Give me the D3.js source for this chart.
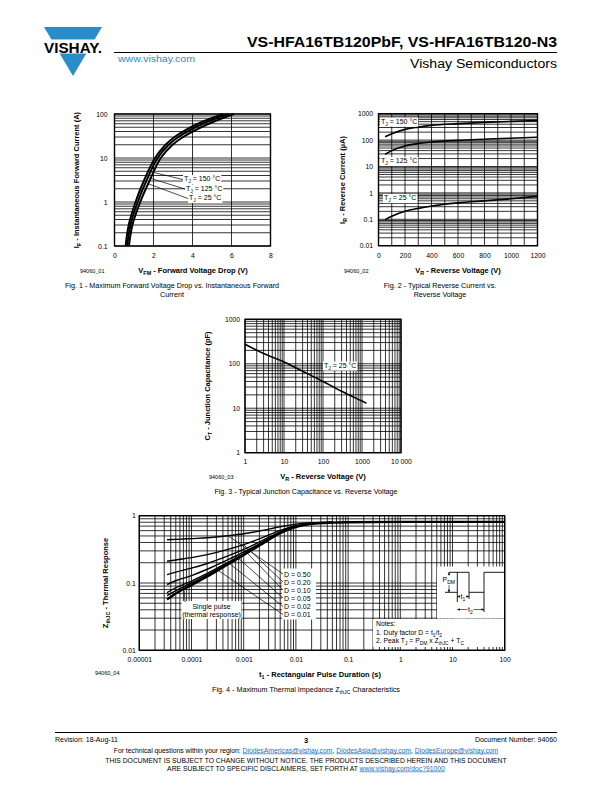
<!DOCTYPE html>
<html><head><meta charset="utf-8">
<script src="https://cdn.jsdelivr.net/npm/d3@7"></script>
<style>body{margin:0;background:#fff}svg{display:block}</style>
</head><body><svg id="page" width="612" height="792"></svg>
<script>
// ================= DATA =================
// Fig. 1  forward current (A) vs forward voltage (V)
const fig1Current = [0.1, 0.3, 1, 3, 10, 20, 30, 60, 100];
const fig1V150 = [0.57, 0.73, 1.08, 1.50, 2.08, 2.62, 3.08, 4.28, 5.58];
const fig1V125 = [0.65, 0.82, 1.19, 1.63, 2.21, 2.78, 3.28, 4.53, 5.84];
const fig1V25  = [0.74, 0.92, 1.32, 1.79, 2.37, 2.98, 3.52, 4.83, 6.13];
const fig1Temps = ["150", "125", "25"];
const fig1LeaderI = [5, 3.6, 2.6];
const fig1XTicks = [0, 2, 4, 6, 8];
const fig1XLabels = ["0", "2", "4", "6", "8"];
const fig1YTicks = [0.1, 1, 10, 100];
const fig1YLabels = ["0.1", "1", "10", "100"];

// Fig. 2  reverse current (uA) vs reverse voltage (V)
const fig2Voltage = [50, 100, 200, 300, 400, 600, 800, 1000, 1200];
const fig2I150 = [135, 175, 255, 310, 360, 420, 470, 510, 545];
const fig2I125 = [29, 40, 60, 74, 85, 98, 108, 118, 128];
const fig2I25  = [0.097, 0.13, 0.2, 0.26, 0.32, 0.42, 0.5, 0.6, 0.74];
const fig2Temps = ["150", "125", "25"];
const fig2XTicks = [0, 200, 400, 600, 800, 1000, 1200];
const fig2XLabels = ["0", "200", "400", "600", "800", "1000", "1200"];
const fig2YTicks = [0.01, 0.1, 1, 10, 100, 1000];
const fig2YLabels = ["0.01", "0.1", "1", "10", "100", "1000"];

// Fig. 3  junction capacitance (pF) vs reverse voltage (V)
const fig3Voltage = [1, 3, 10, 30, 100, 300, 1000, 1300];
const fig3Cap = [275, 170, 110, 68, 40, 24, 14.5, 13];
const fig3XTicks = [1, 10, 100, 1000, 10000];
const fig3XLabels = ["1", "10", "100", "1000", "10 000"];
const fig3YTicks = [1, 10, 100, 1000];
const fig3YLabels = ["1", "10", "100", "1000"];

// Fig. 4  thermal impedance vs pulse duration (s)
const fig4T = [3.4e-5, 5e-5, 1e-4, 2e-4, 5e-4, 1e-3, 2e-3, 5e-3, 1e-2, 2e-2, 5e-2];
const fig4D50 = [0.44, 0.445, 0.457, 0.47, 0.505, 0.54, 0.59, 0.685, 0.75, 0.785, 0.80];
const fig4D20 = [0.21, 0.22, 0.238, 0.264, 0.316, 0.372, 0.452, 0.604, 0.708, 0.768, 0.795];
const fig4D10 = [0.133, 0.145, 0.166, 0.195, 0.253, 0.316, 0.406, 0.577, 0.694, 0.762, 0.792];
const fig4D05 = [0.095, 0.108, 0.129, 0.16, 0.222, 0.288, 0.383, 0.564, 0.687, 0.76, 0.791];
const fig4D02 = [0.072, 0.085, 0.107, 0.139, 0.203, 0.271, 0.369, 0.555, 0.683, 0.76, 0.79];
const fig4D01 = [0.065, 0.077, 0.1, 0.132, 0.196, 0.266, 0.365, 0.553, 0.681, 0.76, 0.79];
const fig4SingleT = [3.4e-5, 5e-5, 1e-4, 2e-4, 5e-4, 1e-3, 2e-3, 5e-3, 1e-2, 2e-2, 5e-2, 0.1, 1, 10, 100];
const fig4Single = [0.057, 0.07, 0.093, 0.125, 0.19, 0.26, 0.36, 0.55, 0.68, 0.76, 0.79, 0.80, 0.81, 0.81, 0.81];
const fig4DLabels = ["D = 0.50", "D = 0.20", "D = 0.10", "D = 0.05", "D = 0.02", "D = 0.01"];
const fig4LeaderT = [5e-4, 1e-3, 1e-3, 7e-4, 5e-4, 3e-4];
const fig4XTicks = [1e-5, 1e-4, 1e-3, 1e-2, 0.1, 1, 10, 100];
const fig4XLabels = ["0.00001", "0.0001", "0.001", "0.01", "0.1", "1", "10", "100"];
const fig4YTicks = [0.01, 0.1, 1];
const fig4YLabels = ["0.01", "0.1", "1"];

// ================= HELPERS =================
const FONT = '"Liberation Sans", Arial, Helvetica, sans-serif';
const BLUE = "#2a8cc8";
const svg = d3.select("#page");
svg.append("rect").attr("width", 612).attr("height", 792).attr("fill", "#fff");

function rich(t, parts, fs) {
  let shifted = 0;
  parts.forEach(p => {
    const sub = Array.isArray(p);
    const target = sub ? fs * 0.3 : 0;
    t.append("tspan").attr("dy", target - shifted).attr("font-size", sub ? fs * 0.72 : fs).text(sub ? p[0] : p);
    shifted = target;
  });
  return t;
}
function txt(x, y, parts, o = {}) {
  const fs = o.fs || 7;
  const t = svg.append("text").attr("x", x).attr("y", y).attr("font-family", FONT)
    .attr("font-size", fs).attr("fill", o.fill || "#000")
    .attr("text-anchor", o.anchor || "start").attr("font-weight", o.bold ? "bold" : null);
  if (o.rot) t.attr("transform", `rotate(-90,${x},${y})`);
  if (o.len) t.attr("textLength", o.len).attr("lengthAdjust", "spacingAndGlyphs");
  if (typeof parts === "string") t.text(parts); else rich(t, parts, fs);
  return t;
}
function logGrid(a, b) {
  const out = [];
  for (let e = Math.round(Math.log10(a)); e < Math.round(Math.log10(b)); e++)
    for (let k = 1; k <= 9; k++) out.push(k * Math.pow(10, e));
  out.push(b);
  return out;
}
function grid(g, x, y, xs, ys) {
  const [x0, x1] = x.range(), [yb, yt] = y.range();
  g.selectAll(null).data(xs).join("line").attr("x1", d => x(d)).attr("x2", d => x(d))
    .attr("y1", yt).attr("y2", yb).attr("stroke", "#000").attr("stroke-width", 0.8);
  g.selectAll(null).data(ys).join("line").attr("y1", d => y(d)).attr("y2", d => y(d))
    .attr("x1", x0).attr("x2", x1).attr("stroke", "#000").attr("stroke-width", 0.8);
}
function frame(g, x, y) {
  const [x0, x1] = x.range(), [yb, yt] = y.range();
  g.append("rect").attr("x", x0).attr("y", yt).attr("width", x1 - x0).attr("height", yb - yt)
    .attr("fill", "none").attr("stroke", "#000").attr("stroke-width", 1.4);
}
function axes(g, x, y, o) {
  const yb = y.range()[0], x0 = x.range()[0];
  const ax = g.append("g").attr("transform", `translate(0,${yb})`)
    .call(d3.axisBottom(x).tickValues(o.xTicks).tickFormat((d, i) => o.xLabels[i]).tickSize(0).tickPadding(o.xPad));
  ax.select(".domain").remove();
  ax.attr("font-family", FONT).attr("font-size", 6.8);
  const ay = g.append("g").attr("transform", `translate(${x0},0)`)
    .call(d3.axisLeft(y).tickValues(o.yTicks).tickFormat((d, i) => o.yLabels[i]).tickSize(0).tickPadding(o.yPad));
  ay.select(".domain").remove();
  ay.attr("font-family", FONT).attr("font-size", 6.8);
}
function boxedText(g, x, y, parts, fs, pad = 1) {
  const t = g.append("text").attr("x", x).attr("y", y).attr("font-family", FONT).attr("font-size", fs);
  rich(t, parts, fs);
  const b = t.node().getBBox();
  g.insert("rect", () => t.node()).attr("x", b.x - pad).attr("y", b.y).attr("width", b.width + 2 * pad)
    .attr("height", b.height).attr("fill", "#fff");
  return b;
}

// ================= HEADER =================
svg.append("path").attr("d", "M44,27L102,27L73,76Z").attr("fill", BLUE);
svg.append("rect").attr("x", 38).attr("y", 39.5).attr("width", 70).attr("height", 14).attr("fill", "#fff");
txt(73, 52.5, "VISHAY.", { fs: 14, bold: true, anchor: "middle", len: 58 });
txt(557, 47, "VS-HFA16TB120PbF, VS-HFA16TB120-N3", { fs: 15, bold: true, anchor: "end", len: 310 });
svg.append("line").attr("x1", 114).attr("x2", 557).attr("y1", 52.5).attr("y2", 52.5).attr("stroke", "#000").attr("stroke-width", 1);
txt(118, 61.5, "www.vishay.com", { fs: 9.5, fill: BLUE, len: 77 });
txt(557, 67.5, "Vishay Semiconductors", { fs: 12.5, anchor: "end", len: 147 });

// ================= FIG 1 =================
{
  const g = svg.append("g");
  const x = d3.scaleLinear([0, 8], [114.5, 270.5]);
  const y = d3.scaleLog([0.1, 100], [246, 114]);
  grid(g, x, y, [2, 4, 6], logGrid(0.1, 100));
  const line = d3.line().x(d => x(d[0])).y(d => y(d[1])).curve(d3.curveCatmullRom.alpha(0.5));
  const series = [fig1V150, fig1V125, fig1V25];
  series.forEach(v => g.append("path").attr("d", line(v.map((vv, i) => [vv, fig1Current[i]])))
    .attr("fill", "none").attr("stroke", "#000").attr("stroke-width", 2));
  const lbl = [[184, 181], [186, 190.5], [189, 200]];
  series.forEach((v, i) => {
    const interp = d3.scaleLog().domain(fig1Current).range(v);
    const I = fig1LeaderI[i];
    const b = boxedText(g, lbl[i][0], lbl[i][1], ["T", ["J"], " = " + fig1Temps[i] + " °C"], 7);
    g.append("line").attr("x1", x(interp(I))).attr("y1", y(I)).attr("x2", b.x - 1).attr("y2", b.y + b.height / 2)
      .attr("stroke", "#000").attr("stroke-width", 0.7);
  });
  frame(g, x, y);
  axes(g, x, y, { xTicks: fig1XTicks, xLabels: fig1XLabels, yTicks: fig1YTicks, yLabels: fig1YLabels, xPad: 7, yPad: 7 });
  txt(193, 273, ["V", ["FM"], " - Forward Voltage Drop (V)"], { fs: 7.5, bold: true, anchor: "middle" });
  txt(79, 180, ["I", ["F"], " - Instantaneous Forward Current (A)"], { fs: 7.5, bold: true, anchor: "middle", rot: true });
  txt(80, 273, "94060_01", { fs: 5.5 });
  txt(172, 288, "Fig. 1 - Maximum Forward Voltage Drop vs. Instantaneous Forward", { fs: 7.2, anchor: "middle" });
  txt(172, 296.5, "Current", { fs: 7.2, anchor: "middle" });
}

// ================= FIG 2 =================
{
  const g = svg.append("g");
  const x = d3.scaleLinear([0, 1200], [378.5, 537.5]);
  const y = d3.scaleLog([0.01, 1000], [245.7, 113.7]);
  grid(g, x, y, d3.range(100, 1200, 100), logGrid(0.01, 1000));
  const line = d3.line().x(d => x(d[0])).y(d => y(d[1])).curve(d3.curveMonotoneX);
  [fig2I150, fig2I125, fig2I25].forEach(s => g.append("path")
    .attr("d", line(s.map((v, i) => [fig2Voltage[i], v])))
    .attr("fill", "none").attr("stroke", "#000").attr("stroke-width", 1.6));
  boxedText(g, 381, 123.5, ["T", ["J"], " = " + fig2Temps[0] + " °C"], 7);
  boxedText(g, 381, 163, ["T", ["J"], " = " + fig2Temps[1] + " °C"], 7);
  boxedText(g, 384, 200, ["T", ["J"], " = " + fig2Temps[2] + " °C"], 7);
  frame(g, x, y);
  axes(g, x, y, { xTicks: fig2XTicks, xLabels: fig2XLabels, yTicks: fig2YTicks, yLabels: fig2YLabels, xPad: 7, yPad: 5.5 });
  txt(458, 273, ["V", ["R"], " - Reverse Voltage (V)"], { fs: 7.5, bold: true, anchor: "middle" });
  txt(345, 180, ["I", ["R"], " - Reverse Current (µA)"], { fs: 7.5, bold: true, anchor: "middle", rot: true });
  txt(344, 273, "94060_02", { fs: 5.5 });
  txt(440, 288, "Fig. 2 - Typical Reverse Current vs.", { fs: 7.2, anchor: "middle" });
  txt(440, 296.5, "Reverse Voltage", { fs: 7.2, anchor: "middle" });
}

// ================= FIG 3 =================
{
  const g = svg.append("g");
  const x = d3.scaleLog([1, 10000], [245, 401]);
  const y = d3.scaleLog([1, 1000], [452.7, 319.3]);
  grid(g, x, y, logGrid(1, 10000), logGrid(1, 1000));
  const line = d3.line().x(d => x(d[0])).y(d => y(d[1])).curve(d3.curveMonotoneX);
  g.append("path").attr("d", line(fig3Cap.map((c, i) => [fig3Voltage[i], c])))
    .attr("fill", "none").attr("stroke", "#000").attr("stroke-width", 1.6);
  boxedText(g, 324, 367.5, ["T", ["J"], " = 25 °C"], 7);
  frame(g, x, y);
  axes(g, x, y, { xTicks: fig3XTicks, xLabels: fig3XLabels, yTicks: fig3YTicks, yLabels: fig3YLabels, xPad: 6, yPad: 5 });
  txt(323, 479, ["V", ["R"], " - Reverse Voltage (V)"], { fs: 7.5, bold: true, anchor: "middle" });
  txt(210, 386, ["C", ["T"], " - Junction Capacitance (pF)"], { fs: 7.5, bold: true, anchor: "middle", rot: true });
  txt(209, 479, "94060_03", { fs: 5.5 });
  txt(306, 494, "Fig. 3 - Typical Junction Capacitance vs. Reverse Voltage", { fs: 7.2, anchor: "middle" });
}

// ================= FIG 4 =================
{
  const g = svg.append("g");
  const x = d3.scaleLog([1e-5, 100], [139.3, 504.7]);
  const y = d3.scaleLog([0.01, 1], [650.3, 515.7]);
  grid(g, x, y, logGrid(1e-5, 100), logGrid(0.01, 1));
  const line = d3.line().x(d => x(d[0])).y(d => y(d[1])).curve(d3.curveMonotoneX);
  const dSeries = [fig4D50, fig4D20, fig4D10, fig4D05, fig4D02, fig4D01];
  dSeries.forEach(s => g.append("path").attr("d", line(s.map((v, i) => [fig4T[i], v])))
    .attr("fill", "none").attr("stroke", "#000").attr("stroke-width", 1.4));
  g.append("path").attr("d", line(fig4Single.map((v, i) => [fig4SingleT[i], v])))
    .attr("fill", "none").attr("stroke", "#000").attr("stroke-width", 2.4);
  // D labels
  g.append("rect").attr("x", 282).attr("y", 568.5).attr("width", 34).attr("height", 51).attr("fill", "#fff");
  const lblY = [574, 582, 590, 598, 606.5, 614.5];
  dSeries.forEach((s, i) => {
    txt(284, lblY[i] + 2.5, fig4DLabels[i], { fs: 7 });
    const interp = d3.scaleLog().domain(fig4T).range(s);
    const t = fig4LeaderT[i];
    g.append("line").attr("x1", x(t)).attr("y1", y(interp(t))).attr("x2", 283).attr("y2", lblY[i])
      .attr("stroke", "#000").attr("stroke-width", 0.7);
  });
  // single pulse label
  g.append("rect").attr("x", 181.5).attr("y", 601).attr("width", 60).attr("height", 18).attr("fill", "#fff");
  txt(211.5, 608.5, "Single pulse", { fs: 7, anchor: "middle" });
  txt(211.5, 616.5, "(thermal response)", { fs: 7, anchor: "middle" });
  const spI = d3.scaleLog().domain(fig4SingleT).range(fig4Single);
  g.append("line").attr("x1", x(7.2e-5)).attr("y1", y(spI(7.2e-5))).attr("x2", 185).attr("y2", 602)
    .attr("stroke", "#000").attr("stroke-width", 0.7);
  // pulse diagram
  g.append("rect").attr("x", 437).attr("y", 566.5).attr("width", 68).attr("height", 52).attr("fill", "#fff");
  const pth = "M449,572.3H469V592.3H484V572.3H505 M457.3,572.3V602 M469,592.3V599 M484,592.3V612 M445,592.3H457.3";
  g.append("path").attr("d", pth).attr("fill", "none").attr("stroke", "#000").attr("stroke-width", 0.9);
  const arrows = "M449,572.3V575.5 M449,585V592.3 M457.3,596.5H469 M457.3,609.5H484";
  g.append("path").attr("d", arrows).attr("fill", "none").attr("stroke", "#000").attr("stroke-width", 0.6);
  const heads = "M449,572.3l-1.3,2.5h2.6Z M449,592.3l-1.3,-2.5h2.6Z M457.3,596.5l2.5,-1.2v2.4Z M469,596.5l-2.5,-1.2v2.4Z M457.3,609.5l2.5,-1.2v2.4Z M484,609.5l-2.5,-1.2v2.4Z";
  g.append("path").attr("d", heads).attr("fill", "#000");
  boxedText(g, 442.5, 582, ["P", ["DM"]], 7, 0.5);
  boxedText(g, 460.5, 599, ["t", ["1"]], 7, 0.5);
  boxedText(g, 468, 612, ["t", ["2"]], 7, 0.5);
  // notes
  g.append("rect").attr("x", 373).attr("y", 619).attr("width", 132).attr("height", 28).attr("fill", "#fff");
  txt(376, 626, "Notes:", { fs: 6.8 });
  txt(376, 634.5, ["1. Duty factor D = t", ["1"], "/t", ["2"]], { fs: 6.8 });
  txt(376, 643, ["2. Peak T", ["J"], " = P", ["DM"], " x Z", ["thJC"], " + T", ["C"]], { fs: 6.8 });
  frame(g, x, y);
  axes(g, x, y, { xTicks: fig4XTicks, xLabels: fig4XLabels, yTicks: fig4YTicks, yLabels: fig4YLabels, xPad: 6.5, yPad: 3.5 });
  txt(320, 677, ["t", ["1"], " - Rectangular Pulse Duration (s)"], { fs: 7.5, bold: true, anchor: "middle" });
  txt(108, 583, ["Z", ["thJC"], " - Thermal Response"], { fs: 7.5, bold: true, anchor: "middle", rot: true });
  txt(95, 675, "94060_04", { fs: 5.5 });
  txt(306, 692, ["Fig. 4 - Maximum Thermal Impedance Z", ["thJC"], " Characteristics"], { fs: 7.2, anchor: "middle" });
}

// ================= FOOTER =================
svg.append("line").attr("x1", 55).attr("x2", 557).attr("y1", 732.5).attr("y2", 732.5).attr("stroke", "#000").attr("stroke-width", 1);
txt(55, 742, "Revision: 18-Aug-11", { fs: 7 });
txt(306, 743, "3", { fs: 7.5, bold: true, anchor: "middle" });
txt(557, 742, "Document Number: 94060", { fs: 7, anchor: "end" });
{
  const t = svg.append("text").attr("x", 306).attr("y", 752.5).attr("text-anchor", "middle")
    .attr("font-family", FONT).attr("font-size", 6.8);
  const parts = [["For technical questions within your region: ", false], ["DiodesAmericas@vishay.com", true], [", ", false],
    ["DiodesAsia@vishay.com", true], [", ", false], ["DiodesEurope@vishay.com", true]];
  parts.forEach(p => { const s = t.append("tspan").text(p[0]); if (p[1]) s.attr("fill", "#1f6fb8").attr("text-decoration", "underline"); });
  txt(306, 762.5, "THIS DOCUMENT IS SUBJECT TO CHANGE WITHOUT NOTICE. THE PRODUCTS DESCRIBED HEREIN AND THIS DOCUMENT", { fs: 6.8, anchor: "middle" });
  const t2 = svg.append("text").attr("x", 306).attr("y", 770.5).attr("text-anchor", "middle")
    .attr("font-family", FONT).attr("font-size", 6.8);
  t2.append("tspan").text("ARE SUBJECT TO SPECIFIC DISCLAIMERS, SET FORTH AT ");
  t2.append("tspan").text("www.vishay.com/doc?91000").attr("fill", "#1f6fb8").attr("text-decoration", "underline");
}
</script></body></html>
